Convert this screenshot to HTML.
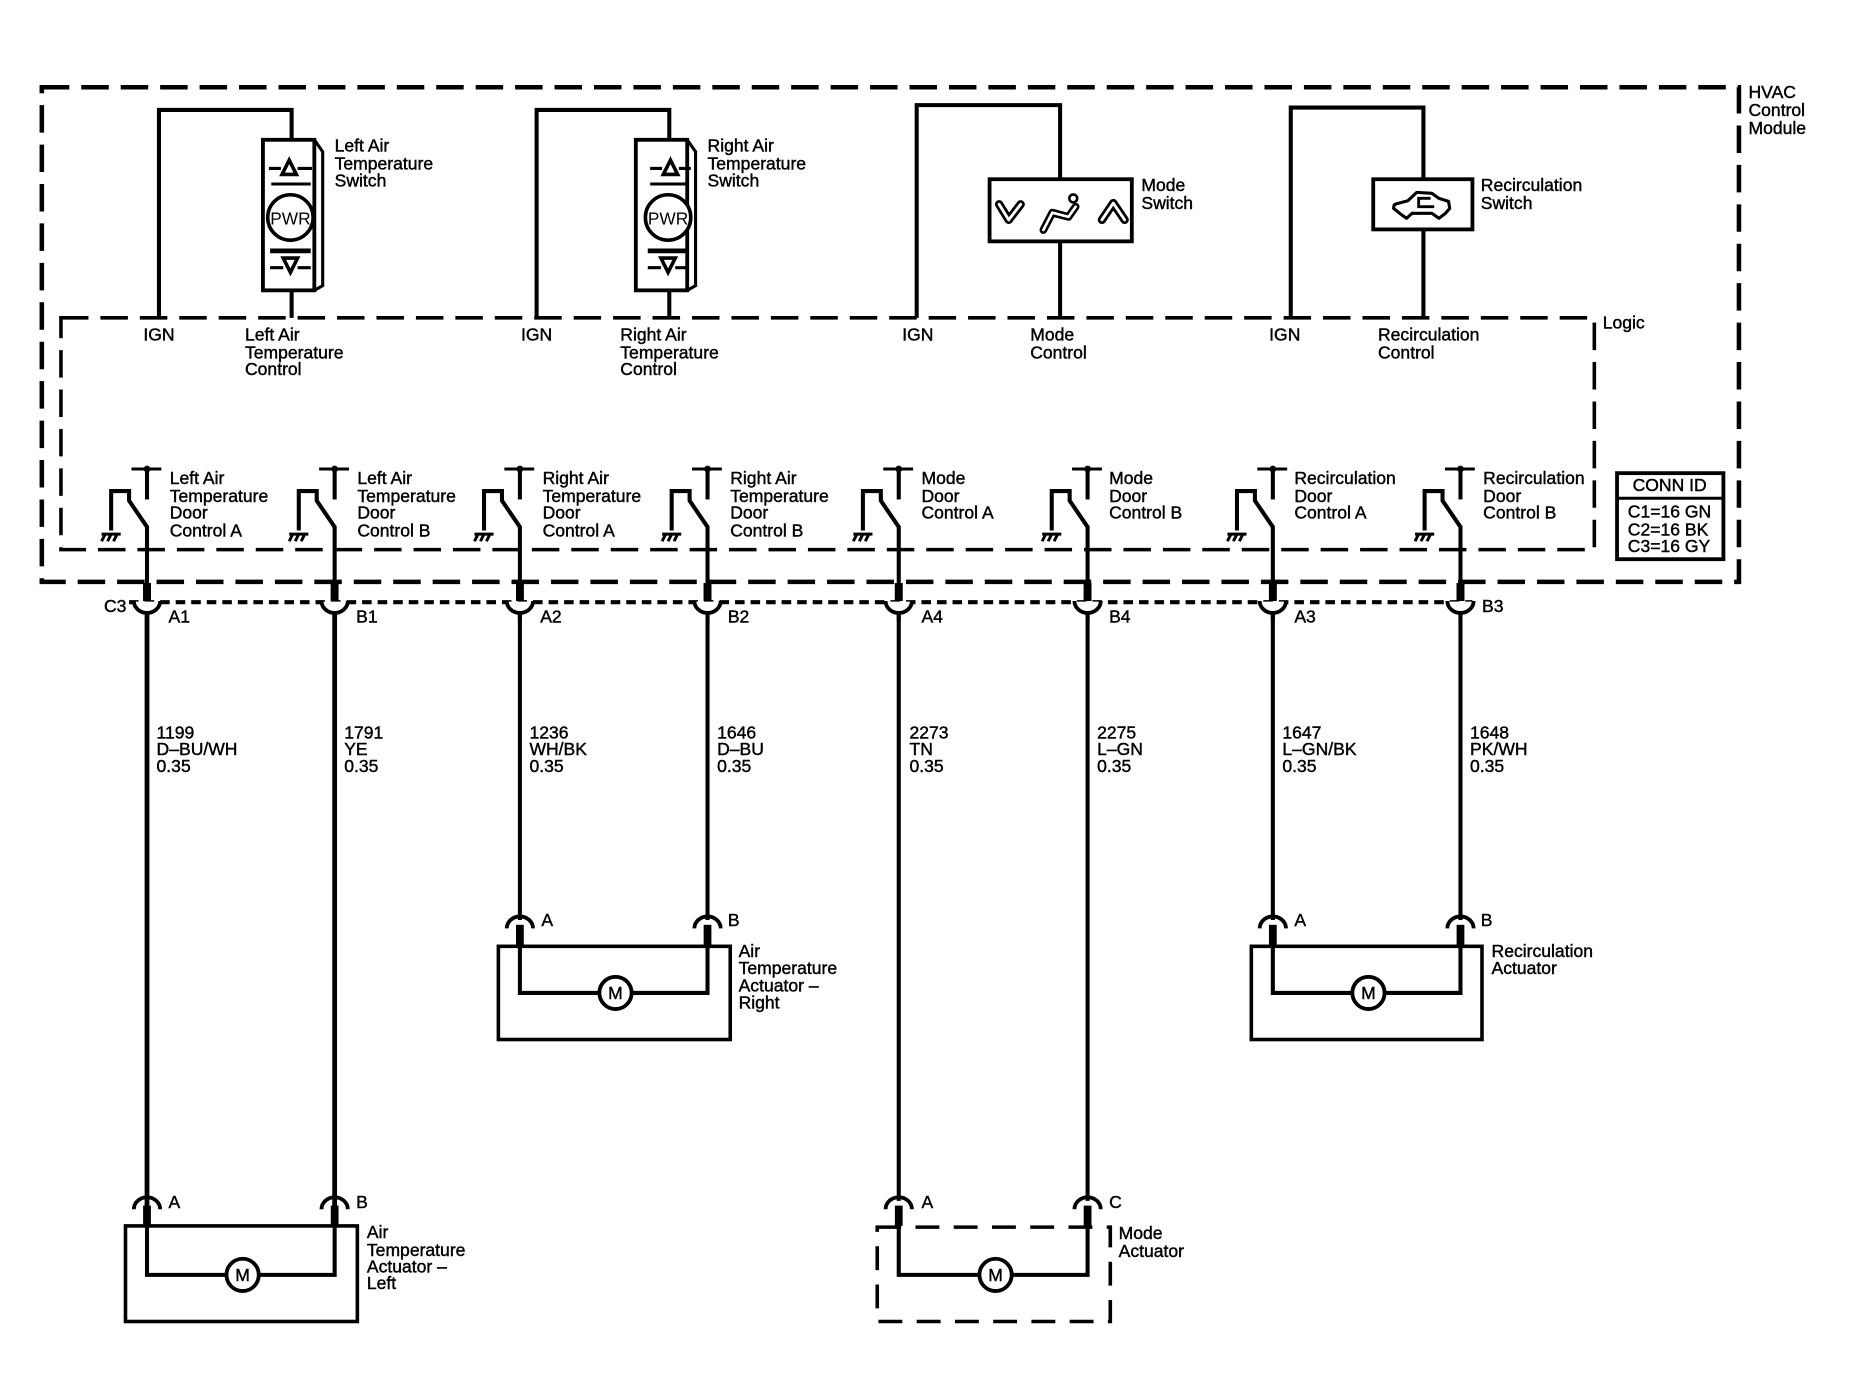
<!DOCTYPE html>
<html>
<head>
<meta charset="utf-8">
<style>
html,body{margin:0;padding:0;background:#fff;width:1874px;height:1392px;overflow:hidden}
svg{display:block}
text{font-family:"Liberation Sans",sans-serif;font-size:14.7px;fill:#000;stroke:#000;stroke-width:.35}
.l{fill:none;stroke:#000;stroke-width:3;stroke-linejoin:miter}
.w{fill:none;stroke:#000;stroke-width:3.4}
.t{fill:none;stroke:#000;stroke-width:6.5}
.c{fill:none;stroke:#000;stroke-width:3.2}
</style>
</head>
<body>
<svg xmlns="http://www.w3.org/2000/svg" width="1874" height="1392" viewBox="0 0 1568 1165" preserveAspectRatio="none">
<defs>
<g id="sw">
<path class="c" d="M-13 392.500H12" style="stroke-width:2.500"/>
<circle cx="0" cy="392.500" r="2.800" fill="#000"/>
<path class="w" d="M0 392V418"/>
<path class="w" d="M0 441L-15 419V411H-30V444"/>
<path class="c" d="M-38 447H-22M-35 447L-38 453M-30 447L-33 453M-25 447L-28 453" style="stroke-width:2.500"/>
<path class="w" d="M0 440V490"/>
<path class="t" d="M0 488V503"/>
<path d="M-11 503.500A11 10 0 0 0 11 503.500Z" fill="#fff" stroke="none"/>
<path class="t" d="M0 488V503"/>
<path class="c" d="M-11 503A11 10 0 0 0 11 503"/>
<path class="w" d="M0 513V520"/>
</g>
<g id="up">
<path class="c" d="M-11 12A11 10 0 0 1 11 12"/>
<path class="t" d="M0 9V26"/>
</g>
</defs>

<!-- dashed module boundaries -->
<rect class="l" x="35" y="73" width="1420" height="414" style="stroke-width:3.800;stroke-dasharray:23 10"/>
<rect class="l" x="51" y="266" width="1283" height="194" style="stroke-width:3;stroke-dasharray:23 10"/>
<path class="l" d="M108 504H1232" style="stroke-width:3.500;stroke-dasharray:8 5"/>

<!-- switches wiring -->
<path class="w" d="M133 266V92H244V117M244 243V266"/>
<path class="w" d="M449 266V92H560V117M560 243V266"/>
<path class="w" d="M767 266V88H887V150M887 202V266"/>
<path class="w" d="M1080 266V90H1191V150M1191 192V266"/>

<!-- left switch -->
<g id="tsw">
<rect x="220" y="117" width="43" height="126" fill="#fff" stroke="#000" stroke-width="3.200"/>
<path class="c" d="M263 117L270 127V239L263 243" style="stroke-width:2.600"/>
<path d="M236 146L242 134L248 146Z" fill="none" stroke="#000" stroke-width="3"/>
<path class="c" d="M225 141H235M249 141H261M227 154H260" style="stroke-width:2.600"/>
<circle cx="243" cy="182" r="19" fill="#fff" stroke="#000" stroke-width="3"/>
<text x="243" y="188" text-anchor="middle" style="stroke-width:0;font-size:14.500px">PWR</text>
<path class="c" d="M226 210H260" style="stroke-width:4"/>
<path d="M237 216H249L243 228Z" fill="none" stroke="#000" stroke-width="3"/>
<path class="c" d="M226 224H237M249 224H260" style="stroke-width:2.600"/>
</g>
<!-- right switch -->
<g>
<rect x="532" y="117" width="43" height="126" fill="#fff" stroke="#000" stroke-width="3.200"/>
<path class="c" d="M575 117L582 127V239L575 243" style="stroke-width:2.600"/>
<path d="M555 146L561 134L567 146Z" fill="none" stroke="#000" stroke-width="3"/>
<path class="c" d="M544 141H554M568 141H578M544 154H574" style="stroke-width:2.600"/>
<circle cx="559" cy="182" r="19" fill="#fff" stroke="#000" stroke-width="3"/>
<text x="559" y="188" text-anchor="middle" style="stroke-width:0;font-size:14.500px">PWR</text>
<path class="c" d="M542 210H576" style="stroke-width:4"/>
<path d="M553 216H565L559 228Z" fill="none" stroke="#000" stroke-width="3"/>
<path class="c" d="M542 224H553M565 224H576" style="stroke-width:2.600"/>
</g>

<!-- mode switch -->
<rect x="828" y="150" width="119" height="52" fill="#fff" stroke="#000" stroke-width="3.200"/>
<path d="M836 171L844 184L854 171" fill="none" stroke="#000" stroke-width="7" stroke-linejoin="round" stroke-linecap="round"/>
<path d="M836 171L844 184L854 171" fill="none" stroke="#fff" stroke-width="2.400" stroke-linejoin="round" stroke-linecap="round"/>
<path d="M922 184L931.500 170L941 184" fill="none" stroke="#000" stroke-width="7" stroke-linejoin="round" stroke-linecap="round"/>
<path d="M922 184L931.500 170L941 184" fill="none" stroke="#fff" stroke-width="2.400" stroke-linejoin="round" stroke-linecap="round"/>
<circle cx="898" cy="166" r="3.300" fill="none" stroke="#000" stroke-width="2.200"/>
<path d="M873 192.500L880.500 178L894 181.500L900 173" fill="none" stroke="#000" stroke-width="6.500" stroke-linejoin="round" stroke-linecap="round"/>
<path d="M873 192.500L880.500 178L894 181.500L900 173" fill="none" stroke="#fff" stroke-width="2.200" stroke-linejoin="round" stroke-linecap="round"/>

<!-- recirculation switch -->
<rect x="1149" y="150" width="83" height="42" fill="#fff" stroke="#000" stroke-width="3.200"/>
<path d="M1166.500 171.500L1166 174.400L1173 180L1177 182.700L1181.500 178.500H1198L1204 182.700L1209.500 178.500L1213 174.400L1212 168.500L1204 166L1198 161.800L1185.400 161L1178 168L1168 170.700Z" fill="none" stroke="#000" stroke-width="2.600" stroke-linejoin="round"/>
<path d="M1197 166H1187V173H1200" fill="none" stroke="#000" stroke-width="2.400"/>

<!-- door control switches -->
<use href="#sw" x="123"/>
<use href="#sw" x="280"/>
<use href="#sw" x="435"/>
<use href="#sw" x="592"/>
<use href="#sw" x="752"/>
<use href="#sw" x="910"/>
<use href="#sw" x="1065"/>
<use href="#sw" x="1222"/>

<!-- long wires -->
<path class="w" d="M123 513V1010" style="stroke-width:4"/>
<path class="w" d="M280 513V1010" style="stroke-width:4"/>
<path class="w" d="M435 513V770"/>
<path class="w" d="M592 513V770"/>
<path class="w" d="M752 513V1005"/>
<path class="w" d="M910 513V1005"/>
<path class="w" d="M1065 513V770"/>
<path class="w" d="M1222 513V770"/>

<!-- actuators -->
<rect class="l" x="105" y="1026" width="194" height="80"/>
<rect class="l" x="417" y="792" width="194" height="78"/>
<rect class="l" x="1047" y="792" width="193" height="78"/>
<rect class="l" x="734" y="1027" width="195" height="79" style="stroke-dasharray:20 12"/>

<use href="#up" x="123" y="1000"/>
<use href="#up" x="280" y="1000"/>
<use href="#up" x="435" y="765"/>
<use href="#up" x="592" y="765"/>
<use href="#up" x="752" y="1000"/>
<use href="#up" x="910" y="1000"/>
<use href="#up" x="1065" y="765"/>
<use href="#up" x="1222" y="765"/>

<path class="w" d="M123 1026V1067H280V1026"/>
<path class="w" d="M435 792V831H592V792"/>
<path class="w" d="M1065 792V831H1222V792"/>
<path class="w" d="M752 1027V1067H910V1027"/>

<g fill="#fff" stroke="#000" stroke-width="3.200">
<circle cx="203" cy="1067" r="13.500"/>
<circle cx="515" cy="831" r="13.500"/>
<circle cx="1145" cy="831" r="13.500"/>
<circle cx="833" cy="1067" r="13.500"/>
</g>
<text x="203" y="1072" text-anchor="middle">M</text>
<text x="515" y="836" text-anchor="middle">M</text>
<text x="1145" y="836" text-anchor="middle">M</text>
<text x="833" y="1072" text-anchor="middle">M</text>

<!-- connector id -->
<rect x="1353" y="396" width="89" height="72" fill="#fff" stroke="#000" stroke-width="3.200"/>
<path class="c" d="M1353 417H1442" style="stroke-width:2.600"/>
<text x="1397" y="411" text-anchor="middle">CONN ID</text>
<text x="1362" y="433">C1=16 GN</text>
<text x="1362" y="448">C2=16 BK</text>
<text x="1362" y="462">C3=16 GY</text>

<!-- labels -->
<text x="1463" y="82">HVAC</text>
<text x="1463" y="97">Control</text>
<text x="1463" y="112">Module</text>
<text x="1341" y="275">Logic</text>

<text x="280" y="127">Left Air</text>
<text x="280" y="142">Temperature</text>
<text x="280" y="156">Switch</text>
<text x="592" y="127">Right Air</text>
<text x="592" y="142">Temperature</text>
<text x="592" y="156">Switch</text>
<text x="955" y="160">Mode</text>
<text x="955" y="175">Switch</text>
<text x="1239" y="160">Recirculation</text>
<text x="1239" y="175">Switch</text>

<text x="133" y="285" text-anchor="middle">IGN</text>
<text x="449" y="285" text-anchor="middle">IGN</text>
<text x="768" y="285" text-anchor="middle">IGN</text>
<text x="1075" y="285" text-anchor="middle">IGN</text>
<text x="205" y="285">Left Air</text>
<text x="205" y="300">Temperature</text>
<text x="205" y="314">Control</text>
<text x="519" y="285">Right Air</text>
<text x="519" y="300">Temperature</text>
<text x="519" y="314">Control</text>
<text x="862" y="285">Mode</text>
<text x="862" y="300">Control</text>
<text x="1153" y="285">Recirculation</text>
<text x="1153" y="300">Control</text>

<text x="142" y="405">Left Air</text>
<text x="142" y="420">Temperature</text>
<text x="142" y="434">Door</text>
<text x="142" y="449">Control A</text>
<text x="299" y="405">Left Air</text>
<text x="299" y="420">Temperature</text>
<text x="299" y="434">Door</text>
<text x="299" y="449">Control B</text>
<text x="454" y="405">Right Air</text>
<text x="454" y="420">Temperature</text>
<text x="454" y="434">Door</text>
<text x="454" y="449">Control A</text>
<text x="611" y="405">Right Air</text>
<text x="611" y="420">Temperature</text>
<text x="611" y="434">Door</text>
<text x="611" y="449">Control B</text>
<text x="771" y="405">Mode</text>
<text x="771" y="420">Door</text>
<text x="771" y="434">Control A</text>
<text x="928" y="405">Mode</text>
<text x="928" y="420">Door</text>
<text x="928" y="434">Control B</text>
<text x="1083" y="405">Recirculation</text>
<text x="1083" y="420">Door</text>
<text x="1083" y="434">Control A</text>
<text x="1241" y="405">Recirculation</text>
<text x="1241" y="420">Door</text>
<text x="1241" y="434">Control B</text>

<text x="87" y="512">C3</text>
<text x="141" y="521">A1</text>
<text x="298" y="521">B1</text>
<text x="452" y="521">A2</text>
<text x="609" y="521">B2</text>
<text x="771" y="521">A4</text>
<text x="928" y="521">B4</text>
<text x="1083" y="521">A3</text>
<text x="1240" y="512">B3</text>

<text x="131" y="618">1199</text><text x="131" y="632">D&#8211;BU/WH</text><text x="131" y="646">0.35</text>
<text x="288" y="618">1791</text><text x="288" y="632">YE</text><text x="288" y="646">0.35</text>
<text x="443" y="618">1236</text><text x="443" y="632">WH/BK</text><text x="443" y="646">0.35</text>
<text x="600" y="618">1646</text><text x="600" y="632">D&#8211;BU</text><text x="600" y="646">0.35</text>
<text x="761" y="618">2273</text><text x="761" y="632">TN</text><text x="761" y="646">0.35</text>
<text x="918" y="618">2275</text><text x="918" y="632">L&#8211;GN</text><text x="918" y="646">0.35</text>
<text x="1073" y="618">1647</text><text x="1073" y="632">L&#8211;GN/BK</text><text x="1073" y="646">0.35</text>
<text x="1230" y="618">1648</text><text x="1230" y="632">PK/WH</text><text x="1230" y="646">0.35</text>

<text x="141" y="1011">A</text>
<text x="298" y="1011">B</text>
<text x="453" y="775">A</text>
<text x="609" y="775">B</text>
<text x="1083" y="775">A</text>
<text x="1239" y="775">B</text>
<text x="771" y="1011">A</text>
<text x="928" y="1011">C</text>

<text x="307" y="1036">Air</text>
<text x="307" y="1051">Temperature</text>
<text x="307" y="1065">Actuator &#8211;</text>
<text x="307" y="1079">Left</text>
<text x="618" y="801">Air</text>
<text x="618" y="815">Temperature</text>
<text x="618" y="830">Actuator &#8211;</text>
<text x="618" y="844">Right</text>
<text x="1248" y="801">Recirculation</text>
<text x="1248" y="815">Actuator</text>
<text x="936" y="1037">Mode</text>
<text x="936" y="1052">Actuator</text>
</svg>
</body>
</html>
